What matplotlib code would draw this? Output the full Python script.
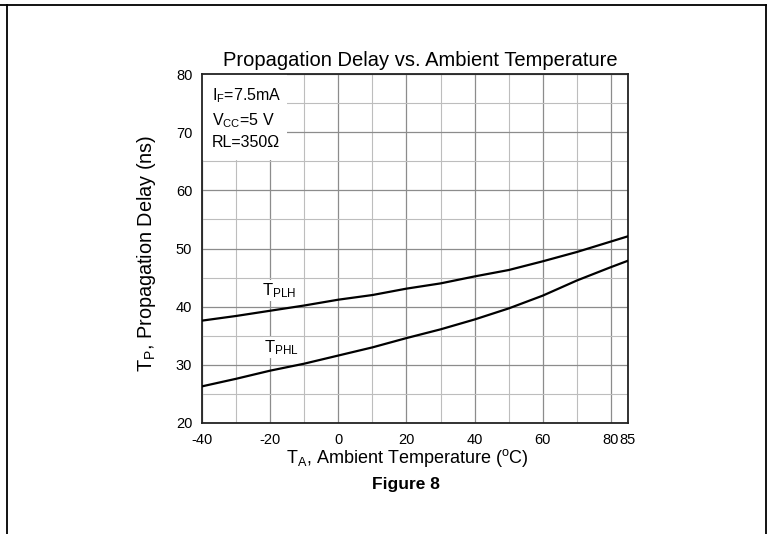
import matplotlib
matplotlib.use("Agg")
import matplotlib.pyplot as plt
from matplotlib.lines import Line2D
from matplotlib.patches import Rectangle

plt.rcParams['font.family'] = ['Liberation Sans', 'DejaVu Sans']
plt.rcParams['mathtext.fontset'] = 'custom'
plt.rcParams['mathtext.rm'] = 'Liberation Sans'
plt.rcParams['mathtext.default'] = 'regular'

# ---- data ----
temps = [-40, -30, -20, -10, 0, 10, 20, 30, 40, 50, 60, 70, 80, 85]
tplh = [37.6, 38.4, 39.3, 40.2, 41.2, 42.0, 43.1, 44.0, 45.2, 46.3, 47.8, 49.4, 51.2, 52.1]
tphl = [26.3, 27.6, 29.0, 30.2, 31.6, 33.0, 34.6, 36.1, 37.8, 39.7, 41.9, 44.5, 46.8, 47.9]

x_ticks = [-40, -20, 0, 20, 40, 60, 80, 85]
x_ticklabels = ['-40', '-20', '0', '20', '40', '60', '80', '85']
x_minor = [-30, -10, 10, 30, 50, 70]
y_ticks = [20, 30, 40, 50, 60, 70, 80]
y_minor = [25, 35, 45, 55, 65, 75]

W, H = 769, 534
fig = plt.figure(figsize=(W / 100, H / 100), dpi=100)
ax = fig.add_axes([202 / W, 1 - 423 / H, 426 / W, 349 / H])

ax.set_xlim(-40, 85)
ax.set_ylim(20, 80)
ax.set_xticks(x_ticks)
ax.set_xticklabels(x_ticklabels)
ax.set_xticks(x_minor, minor=True)
ax.set_yticks(y_ticks)
ax.set_yticks(y_minor, minor=True)
ax.tick_params(which='both', length=0, labelsize=10.5)
ax.tick_params(axis='x', pad=7)
ax.tick_params(axis='y', pad=7)
ax.set_axisbelow(True)
ax.grid(which='major', color='#8c8c8c', linewidth=0.9)
ax.grid(which='minor', color='#bdbdbd', linewidth=0.8)
for s in ax.spines.values():
    s.set_linewidth(1.3)
    s.set_color('#222222')

# white area behind condition text (hides grid there)
ax.add_patch(Rectangle((0, 0.754), 0.2, 0.246, transform=ax.transAxes,
                       facecolor='white', edgecolor='none', zorder=1))

ax.plot(temps, tplh, color='black', linewidth=1.6, zorder=3)
ax.plot(temps, tphl, color='black', linewidth=1.6, zorder=3)

ax.text(0.0235, 0.9255, r'I$_\mathregular{F}$=7.5mA', transform=ax.transAxes,
        fontsize=11.5, va='baseline', ha='left', zorder=4)
ax.text(0.0235, 0.8525, r'V$_\mathregular{CC}$=5 V', transform=ax.transAxes,
        fontsize=11.5, va='baseline', ha='left', zorder=4)
ax.text(0.0235, 0.7908, r'RL=350Ω', transform=ax.transAxes,
        fontsize=11.5, va='baseline', ha='left', zorder=4)

ax.text(-22.4, 42.0, r'T$_\mathregular{PLH}$', fontsize=12, va='baseline', ha='left',
        zorder=4, bbox=dict(facecolor='white', edgecolor='none', pad=1.0))
ax.text(-21.8, 32.2, r'T$_\mathregular{PHL}$', fontsize=12, va='baseline', ha='left',
        zorder=4, bbox=dict(facecolor='white', edgecolor='none', pad=1.0))

fig.text(420 / W, 1 - 61 / H, 'Propagation Delay vs. Ambient Temperature',
         fontsize=14.5, ha='center', va='center')
fig.text(407 / W, 1 - 458 / H, r'T$_\mathregular{A}$, Ambient Temperature ($^\mathregular{o}$C)',
         fontsize=13, ha='center', va='center')
fig.text(146 / W, 1 - 253 / H, r'T$_\mathregular{P}$, Propagation Delay (ns)',
         fontsize=14.3, ha='center', va='center', rotation=90)
fig.text(406 / W, 1 - 485 / H, 'Figure 8', fontsize=12.5, fontweight='bold',
         ha='center', va='center')

# outer frame (top, left, right)
lw = 1.3
fig.add_artist(Line2D([0, 766 / W], [1 - 4.5 / H, 1 - 4.5 / H], transform=fig.transFigure,
                      color='black', linewidth=lw))
fig.add_artist(Line2D([6.8 / W, 6.8 / W], [0, 1 - 4.5 / H], transform=fig.transFigure,
                      color='black', linewidth=lw))
fig.add_artist(Line2D([766 / W, 766 / W], [0, 1 - 4.5 / H], transform=fig.transFigure,
                      color='black', linewidth=lw))

fig.savefig('out.png', dpi=100)
